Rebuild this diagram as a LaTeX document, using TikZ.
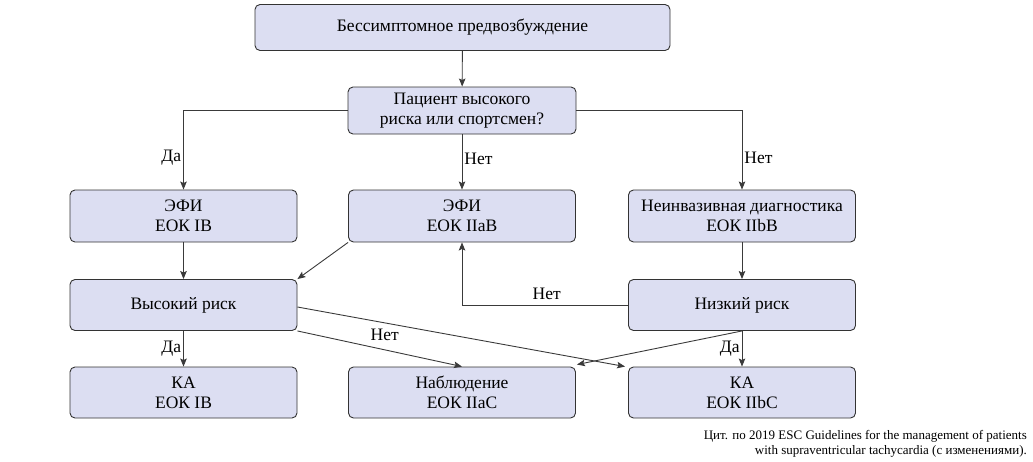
\documentclass[tikz,border=0pt]{standalone}
\usepackage{fontspec}
\setmainfont{Liberation Serif}
\newfontfamily\tnr{Liberation Serif}
\usetikzlibrary{arrows.meta}
\definecolor{boxfill}{HTML}{DCDEF2}
\definecolor{boxline}{HTML}{333333}
\definecolor{conn}{HTML}{3A3A3A}
\tikzset{
  box/.style={draw=boxline, fill=boxfill, rounded corners=5pt, line width=0.9pt,
    minimum width=227pt, minimum height=51pt, align=center, inner sep=2pt,
    font=\tnr\fontsize{17.5}{20}\selectfont},
  arr/.style={draw=conn, line width=0.9pt, -{Stealth[length=8pt,width=6.5pt,inset=1.5pt]}},
  lbl/.style={font=\tnr\fontsize{17.5}{20}\selectfont, inner sep=2pt},
  capt/.style={font=\tnr\fontsize{13}{15}\selectfont, align=right, inner sep=0pt}
}
\begin{document}
\begin{tikzpicture}[x=1pt,y=-1pt]
\useasboundingbox (0,0) rectangle (1033,461);
\node[box, minimum width=415pt, minimum height=46pt] (top) at (462.5,27.5) {Бессимптомное предвозбуждение};
\node[box, minimum width=228pt, minimum height=47pt] (q) at (462,110.5) {Пациент высокого\\риска или спортсмен?};
\node[box, minimum height=52pt] (e1) at (183.5,216) {ЭФИ\\ЕОК IB};
\node[box, minimum height=52pt] (e2) at (462,216) {ЭФИ\\ЕОК IIaB};
\node[box, minimum height=52pt] (ni) at (742,216) {Неинвазивная диагностика\\ЕОК IIbB};
\node[box] (hr) at (183.5,305) {Высокий риск};
\node[box] (lr) at (742,305) {Низкий риск};
\node[box] (ka1) at (183.5,392.5) {КА\\ЕОК IB};
\node[box] (obs) at (462,392.5) {Наблюдение\\ЕОК IIaC};
\node[box] (ka2) at (742,392.5) {КА\\ЕОК IIbC};

\draw[arr] (top) -- (q);
\draw[arr] (q.west) -| node[lbl, pos=0.8, left] {Да} (e1.north);
\draw[arr] (q) -- node[lbl, pos=0.45, right] {Нет} (e2);
\draw[arr] (q.east) -| node[lbl, pos=0.8, right] {Нет} (ni.north);
\draw[arr] (e1) -- (hr);
\draw[arr] (e2.south west) -- (hr.north east);
\draw[arr] (ni) -- (lr);
\draw[arr] (lr.west) -| node[lbl, pos=0.245, above, yshift=3pt] {Нет} (e2.south);
\draw[arr] (hr) -- node[lbl, pos=0.5, left] {Да} (ka1);
\draw[arr] (hr.south east) -- node[lbl, pos=0.53, above, yshift=7pt] {Нет} (obs.north);
\draw[arr] ([yshift=-2pt]hr.east) -- ([xshift=-3pt]ka2.north west);
\draw[arr] (lr.south) -- ([xshift=1pt,yshift=2pt]obs.north east);
\draw[arr] (lr) -- node[lbl, pos=0.5, left] {Да} (ka2);

\node[capt, anchor=north east] (cap) at (1027,430) {Цит. по 2019 ESC Guidelines for the management of patients\\with supraventricular tachycardia (с изменениями).};
\end{tikzpicture}
\end{document}
